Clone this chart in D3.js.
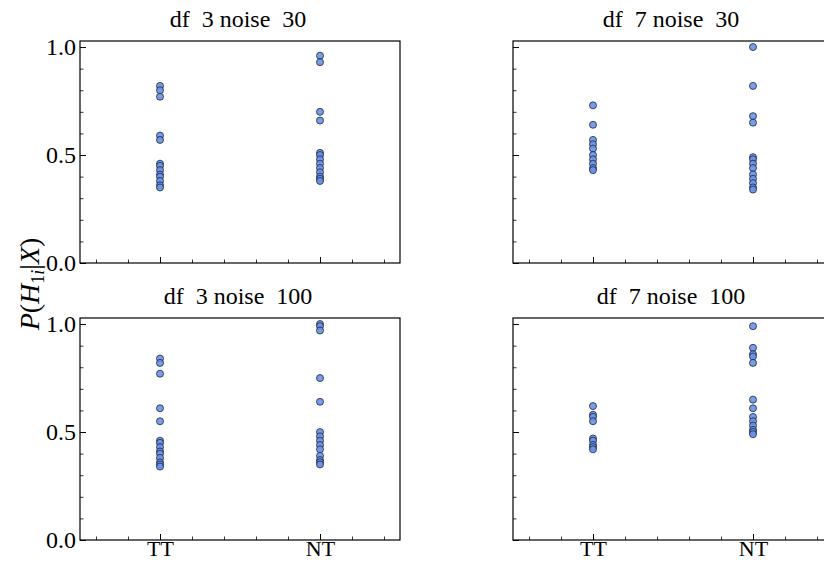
<!DOCTYPE html>
<html>
<head>
<meta charset="utf-8">
<script src="https://cdn.jsdelivr.net/npm/d3@7"></script>
<style>
  body { margin: 0; background: #fff; }
  svg, svg text { font-family: "Liberation Serif", "DejaVu Serif", serif !important; }
</style>
</head>
<body>
<svg id="chart" width="824" height="561"></svg>
<script>
// categories and per-panel values
const categories = ["TT", "NT"];
const panelTitles = ["df  3 noise  30", "df  7 noise  30", "df  3 noise  100", "df  7 noise  100"];

const df3n30TT = [0.82, 0.80, 0.77, 0.59, 0.57, 0.46, 0.45, 0.43, 0.41, 0.40, 0.38, 0.36, 0.35];
const df3n30NT = [0.96, 0.93, 0.70, 0.66, 0.51, 0.50, 0.48, 0.46, 0.44, 0.42, 0.40, 0.39, 0.38];
const df7n30TT = [0.73, 0.64, 0.57, 0.55, 0.53, 0.50, 0.48, 0.46, 0.44, 0.43];
const df7n30NT = [1.00, 0.82, 0.68, 0.65, 0.49, 0.48, 0.46, 0.44, 0.41, 0.39, 0.37, 0.35, 0.34];
const df3n100TT = [0.84, 0.82, 0.77, 0.61, 0.55, 0.46, 0.45, 0.43, 0.41, 0.40, 0.38, 0.36, 0.35, 0.34];
const df3n100NT = [1.00, 0.99, 0.97, 0.75, 0.64, 0.50, 0.48, 0.46, 0.44, 0.42, 0.39, 0.37, 0.36, 0.35];
const df7n100TT = [0.62, 0.58, 0.57, 0.55, 0.47, 0.46, 0.44, 0.43, 0.42];
const df7n100NT = [0.99, 0.89, 0.86, 0.85, 0.82, 0.65, 0.61, 0.57, 0.55, 0.53, 0.51, 0.50, 0.49];

const panelData = [
    [df3n30TT, df3n30NT],
    [df7n30TT, df7n30NT],
    [df3n100TT, df3n100NT],
    [df7n100TT, df7n100NT]
];

const yMajor = [0, 0.5, 1.0];
const yMinor = [0.1, 0.2, 0.3, 0.4, 0.6, 0.7, 0.8, 0.9];
const xMinor = [-0.4, -0.2, 0.2, 0.4, 0.6, 0.8, 1.2, 1.4];

const svg = d3.select("#chart");

const panelW = 320, panelH = 222;
const lefts = [80, 513];
const tops = [41, 318];

const x = d3.scaleLinear().domain([-0.5, 1.5]).range([0, panelW]);
const y = d3.scaleLinear().domain([0, 1.028]).range([panelH, 0]);

panelData.forEach(function (series, p) {
    const col = p % 2, row = Math.floor(p / 2);
    const g = svg.append("g")
        .attr("transform", "translate(" + lefts[col] + "," + tops[row] + ")");

    // title
    g.append("text")
        .attr("x", panelW / 2 - 2)
        .attr("y", -14)
        .attr("text-anchor", "middle")
        .attr("font-size", "24px")
        .style("white-space", "pre")
        .text(panelTitles[p]);

    // points
    series.forEach(function (vals, ci) {
        g.selectAll(".pt" + ci)
            .data(vals)
            .enter()
            .append("circle")
            .attr("class", "pt" + ci)
            .attr("cx", x(ci))
            .attr("cy", function (d) { return y(d); })
            .attr("r", 3.5)
            .attr("fill", "#6a94e6")
            .attr("fill-opacity", 0.9)
            .attr("stroke", "#1c2340")
            .attr("stroke-width", 0.8);
    });

    // y axis: major + minor, inward ticks
    const yAx = d3.axisLeft(y).tickValues(yMajor).tickSize(-6).tickPadding(4)
        .tickFormat(col === 0 ? d3.format(".1f") : function () { return ""; });
    g.append("g").call(yAx)
        .call(function (a) { a.select(".domain").remove(); })
        .call(function (a) {
            a.selectAll("line").attr("stroke", "#000").attr("stroke-width", 1);
            a.selectAll("text").attr("font-size", "24px").attr("fill", "#000");
        });
    g.append("g").call(d3.axisLeft(y).tickValues(yMinor).tickSize(-3.5).tickFormat(""))
        .call(function (a) { a.select(".domain").remove(); })
        .call(function (a) { a.selectAll("line").attr("stroke", "#000").attr("stroke-width", 0.8); });

    // x axis
    const xAx = d3.axisBottom(x).tickValues([0, 1]).tickSize(-6).tickPadding(2)
        .tickFormat(row === 1 ? function (d) { return categories[d]; } : function () { return ""; });
    g.append("g").attr("transform", "translate(0," + panelH + ")").call(xAx)
        .call(function (a) { a.select(".domain").remove(); })
        .call(function (a) {
            a.selectAll("line").attr("stroke", "#000").attr("stroke-width", 1);
            a.selectAll("text").attr("font-size", "22px").attr("fill", "#000").attr("dy", "0.65em");
        });
    g.append("g").attr("transform", "translate(0," + panelH + ")")
        .call(d3.axisBottom(x).tickValues(xMinor).tickSize(-3.5).tickFormat(""))
        .call(function (a) { a.select(".domain").remove(); })
        .call(function (a) { a.selectAll("line").attr("stroke", "#000").attr("stroke-width", 0.8); });

    // frame
    g.append("rect")
        .attr("x", 0).attr("y", 0)
        .attr("width", panelW).attr("height", panelH)
        .attr("fill", "none")
        .attr("stroke", "#000")
        .attr("stroke-width", 1.2);
});

// shared y label
const yl = svg.append("text")
    .attr("transform", "translate(39,284) rotate(-90)")
    .attr("text-anchor", "middle")
    .attr("font-size", "28px");
yl.append("tspan").attr("font-style", "italic").text("P");
yl.append("tspan").text("(");
yl.append("tspan").attr("font-style", "italic").text("H");
yl.append("tspan").attr("font-size", "18px").attr("dy", 5).text("1");
yl.append("tspan").attr("font-size", "18px").attr("font-style", "italic").text("i");
yl.append("tspan").attr("dy", -5).text("|");
yl.append("tspan").attr("font-style", "italic").text("X");
yl.append("tspan").text(")");
</script>
</body>
</html>
